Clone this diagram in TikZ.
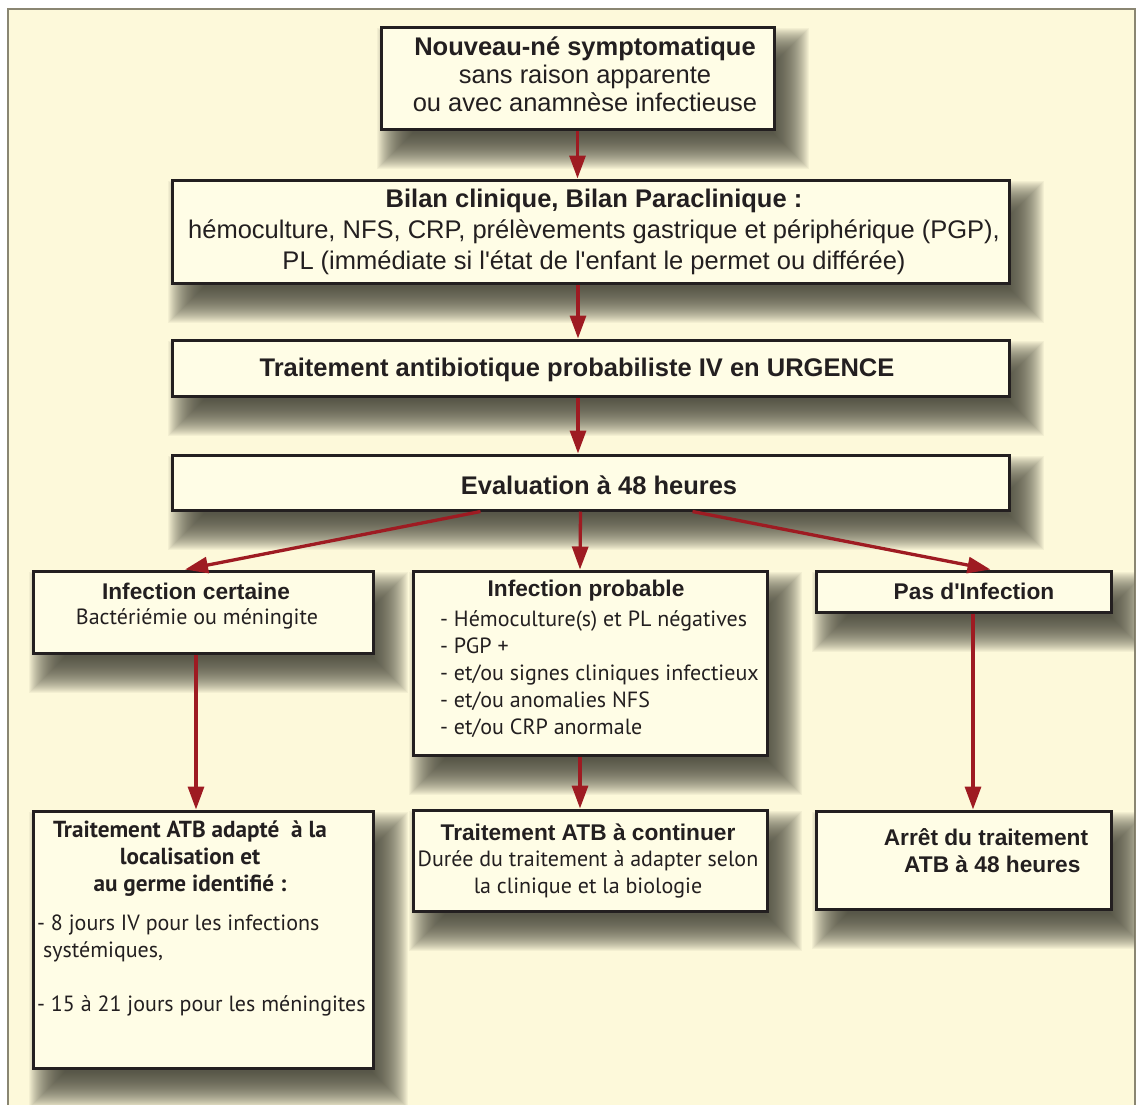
\documentclass[tikz,border=0pt]{standalone}
\usepackage{fontspec}
\setmainfont{Liberation Sans}[Ligatures=TeXOff]
\newfontfamily\myr{PT Sans}
\usetikzlibrary{arrows.meta,backgrounds}
\definecolor{bgc}{HTML}{FDF9DA}
\definecolor{boxc}{HTML}{FFFDE6}
\definecolor{edgec}{HTML}{231F20}
\definecolor{arr}{HTML}{9E1B22}
\definecolor{framec}{HTML}{8A8672}
\definecolor{shc}{HTML}{46463A}
\newcommand\boxshadow[1]{%
  \foreach \k in {-18,-17,...,18} {%
    \fill[shc, fill opacity=0.05]
      ([xshift={(15+\k)*1pt}, yshift={(-20-\k)*1pt}]#1.north west) rectangle
      ([xshift={(15-\k)*1pt}, yshift={(-20+\k)*1pt}]#1.south east);
  }}
\begin{document}
\begin{tikzpicture}[x=1pt,y=-1pt,
 box/.style={draw=edgec, line width=3pt, fill=boxc, rectangle, inner sep=0pt},
 ar/.style={draw=arr, line width=3.3pt, -{Triangle[length=23pt,width=16pt]}},
 txt/.style={font=\fontsize{25.5}{28}\selectfont, align=center, inner sep=0pt, text=edgec},
 txtb/.style={txt, font=\fontsize{25.5}{28}\selectfont\bfseries},
 hb/.style={txt, font=\fontsize{22.7}{27}\selectfont\bfseries},
 mt/.style={font=\myr\fontsize{22}{27}\selectfont, inner sep=0pt, text=edgec},
]
\useasboundingbox (0,0) rectangle (1141,1104);
\clip (0,0) rectangle (1141,1104);

% boxes
\node[box, minimum width=393pt, minimum height=102pt] (n1) at (577.5,78) {};
\node[box, minimum width=837pt, minimum height=103pt] (n2) at (590.5,231.5) {};
\node[box, minimum width=837pt, minimum height=56pt] (n3) at (590.5,368) {};
\node[box, minimum width=837pt, minimum height=55pt] (n4) at (590.5,482.5) {};
\node[box, minimum width=340pt, minimum height=82pt] (n5) at (203,612) {};
\node[box, minimum width=354pt, minimum height=184pt] (n6) at (590,663) {};
\node[box, minimum width=295pt, minimum height=41pt] (n7) at (963.5,591.5) {};
\node[box, minimum width=340pt, minimum height=257pt] (n8) at (203,939.5) {};
\node[box, minimum width=354pt, minimum height=101pt] (n9) at (590,860.5) {};
\node[box, minimum width=295pt, minimum height=98pt] (n10) at (963.5,860) {};

\begin{pgfonlayer}{background}
\fill[white] (0,0) rectangle (1141,1104);
\draw[framec, line width=2pt, fill=bgc] (8,9) rectangle (1135,1115);
\begin{scope}
\clip (9,10) rectangle (1134,1114);
\boxshadow{n1}\boxshadow{n2}\boxshadow{n3}\boxshadow{n4}\boxshadow{n5}
\boxshadow{n6}\boxshadow{n7}\boxshadow{n8}\boxshadow{n9}\boxshadow{n10}
\end{scope}
\end{pgfonlayer}

% texts
\node[txt] (t1) at (585,74) {\textbf{Nouveau-né symptomatique}\\sans raison apparente\\ou avec anamnèse infectieuse};
\node[txt, font=\fontsize{25.5}{31}\selectfont] (t2) at (594,232) {\textbf{Bilan clinique, Bilan Paraclinique :}\\hémoculture, NFS, CRP, prélèvements gastrique et périphérique (PGP),\\PL (immédiate si l'état de l'enfant le permet ou différée)};
\node[txtb] (t3) at (577,370) {Traitement antibiotique probabiliste IV en URGENCE};
\node[txtb] (t4) at (599,485) {Evaluation à 48 heures};
\node[hb] (t5a) at (196,591) {Infection certaine};
\node[mt] (t5b) at (197,619) {Bactériémie ou méningite};
\node[hb] (t6a) at (586,591) {Infection probable};
\node[mt, anchor=west, align=left] (t6b) at (440,674) {- Hémoculture(s) et PL négatives\\- PGP +\\- et/ou signes cliniques infectieux\\- et/ou anomalies NFS\\- et/ou CRP anormale};
\node[hb] (t7) at (974,591) {Pas d'Infection};
\node[mt, align=center, font=\myr\fontsize{23.2}{27}\selectfont\bfseries] (t8a) at (190,859) {Traitement ATB adapté\ \ à la\\localisation et\\au germe identifié :};
\node[mt, anchor=west, align=left] (t8b) at (37,965) {- 8 jours IV pour les infections\\\ systémiques,\\\mbox{}\\- 15 à 21 jours pour les méningites};
\node[hb] (t9a) at (588,832) {Traitement ATB à continuer};
\node[mt, align=center] (t9b) at (588,874) {Durée du traitement à adapter selon\\la clinique et la biologie};
\node[hb] (t10) at (986,851) {Arrêt du traitement\\\ \ ATB à 48 heures};

% arrows
\draw[ar] (n1.south) -- (n1.south |- n2.north);
\draw[ar] ([xshift=-12.5pt]n2.south) -- ([xshift=-12.5pt]n3.north);
\draw[ar] ([xshift=-12.5pt]n3.south) -- ([xshift=-12.5pt]n4.north);
\draw[ar] ([xshift=-110pt]n4.south) -- ([xshift=-18pt]n5.north);
\draw[ar] ([xshift=-10pt]n4.south) -- ([xshift=-10pt]n6.north);
\draw[ar] ([xshift=102pt]n4.south) -- ([xshift=27pt]n7.north);
\draw[ar] ([xshift=-7pt]n5.south) -- ([xshift=-7pt]n8.north);
\draw[ar] ([xshift=-10pt]n6.south) -- ([xshift=-10pt]n9.north);
\draw[ar] ([xshift=9.5pt]n7.south) -- ([xshift=9.5pt]n10.north);
\end{tikzpicture}
\end{document}
